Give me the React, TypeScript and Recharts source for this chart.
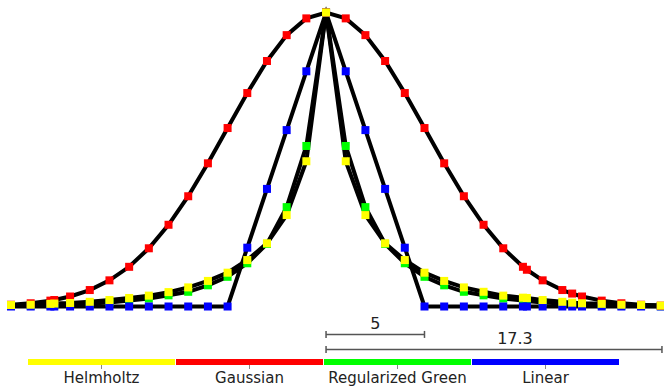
import { LineChart, Line, XAxis, YAxis, ReferenceLine } from "recharts";

// sample positions along the profile (distance units)
const X = [
  -16, -15, -14, -13.8, -13, -12, -11, -10, -9, -8, -7, -6, -5, -4, -3, -2, -1,
  0,
  1, 2, 3, 4, 5, 6, 7, 8, 9, 10, 10.2, 11, 12, 12.5, 13, 14, 15, 16, 17,
];

const HELMHOLTZ = [
  0.005, 0.006, 0.009, 0.01, 0.012, 0.016, 0.022, 0.029, 0.037, 0.049, 0.065, 0.087, 0.115, 0.158, 0.215, 0.311, 0.494,
  1,
  0.494, 0.311, 0.215, 0.158, 0.115, 0.087, 0.065, 0.05, 0.037, 0.03, 0.029, 0.022, 0.016, 0.013, 0.011, 0.009, 0.006, 0.005, 0.003,
];

const GAUSSIAN = [
  0.006, 0.011, 0.02, 0.022, 0.034, 0.056, 0.089, 0.135, 0.198, 0.278, 0.375, 0.487, 0.607, 0.726, 0.835, 0.923, 0.98,
  1,
  0.98, 0.923, 0.835, 0.726, 0.607, 0.487, 0.375, 0.278, 0.198, 0.135, 0.125, 0.089, 0.056, 0.044, 0.034, 0.02, 0.011, 0.006, 0.003,
];

const REG_GREEN = [
  0.002, 0.003, 0.005, 0.005, 0.007, 0.01, 0.014, 0.02, 0.027, 0.038, 0.05, 0.072, 0.101, 0.147, 0.213, 0.338, 0.546,
  1,
  0.546, 0.338, 0.213, 0.147, 0.101, 0.072, 0.05, 0.038, 0.027, 0.02, 0.019, 0.014, 0.01, 0.008, 0.007, 0.005, 0.003, 0.002, 0.001,
];

const LINEAR = [
  0, 0, 0, 0, 0, 0, 0, 0, 0, 0, 0, 0, 0, 0.2, 0.4, 0.6, 0.8,
  1,
  0.8, 0.6, 0.4, 0.2, 0, 0, 0, 0, 0, 0, 0, 0, 0, 0, 0, 0, 0, 0, 0,
];

// legend order (left to right)
const SERIES = [
  { key: "helmholtz", name: "Helmholtz", color: "#ffff00", values: HELMHOLTZ },
  { key: "gaussian", name: "Gaussian", color: "#ff0000", values: GAUSSIAN },
  { key: "green", name: "Regularized Green", color: "#00ff00", values: REG_GREEN },
  { key: "linear", name: "Linear", color: "#0000ff", values: LINEAR },
];

// back to front
const DRAW_ORDER = ["green", "linear", "gaussian", "helmholtz"];

const SCALE_BARS = [
  { label: "5", from: 0, to: 5, y: -0.095 },
  { label: "17.3", from: 0, to: 17.06, y: -0.146 },
];

const W = 664;
const H = 388;
const FONT = "'DejaVu Sans', sans-serif";

const data = X.map((x, i) => {
  const row: Record<string, number> = { x };
  SERIES.forEach((s) => (row[s.key] = s.values[i]));
  return row;
});

const squareDot = (color: string) => (props: any) => {
  const { cx, cy, index } = props;
  if (cx == null || cy == null) return <g key={index} />;
  return <rect key={index} x={cx - 4} y={cy - 4} width={8} height={8} fill={color} />;
};

const scaleBarShape = (label: string, at: number) => (props: any) => {
  const { x1, y1, x2 } = props;
  const tx = x1 + (x2 - x1) * at;
  return (
    <g>
      <line x1={x1} y1={y1} x2={x2} y2={y1} stroke="#555" strokeWidth={1.5} />
      <line x1={x1} y1={y1 - 3.5} x2={x1} y2={y1 + 3.5} stroke="#555" strokeWidth={1.5} />
      <line x1={x2} y1={y1 - 3.5} x2={x2} y2={y1 + 3.5} stroke="#555" strokeWidth={1.5} />
      <text x={tx} y={y1 - 5} textAnchor="middle" fontSize={16} fontFamily={FONT} fill="#222">
        {label}
      </text>
    </g>
  );
};

export default function App() {
  const drawOrder = DRAW_ORDER.map((k) => SERIES.find((s) => s.key === k)!);
  return (
    <div style={{ position: "absolute", left: 0, top: 0, width: W, height: H, background: "#fff" }}>
      <LineChart width={W} height={H} data={data} margin={{ top: 0, right: 0, bottom: 0, left: 0 }}>
        <XAxis type="number" dataKey="x" domain={[-16.559, 17.164]} allowDataOverflow hide />
        <YAxis type="number" domain={[-0.2772, 1.0425]} allowDataOverflow hide />
        {SCALE_BARS.map((b, i) => (
          <ReferenceLine
            key={b.label}
            segment={[
              { x: b.from, y: b.y },
              { x: b.to, y: b.y },
            ]}
            ifOverflow="visible"
            shape={scaleBarShape(b.label, i === 0 ? 0.5 : 0.5625)}
          />
        ))}
        {drawOrder.map((s) => (
          <Line
            key={s.key}
            type="linear"
            dataKey={s.key}
            stroke="#000"
            strokeWidth={4}
            dot={squareDot(s.color)}
            activeDot={false}
            isAnimationActive={false}
          />
        ))}
      </LineChart>
      <div style={{ position: "absolute", left: 28, top: 359, display: "flex", gap: 1 }}>
        {SERIES.map((s) => (
          <div key={s.key} style={{ width: 147, position: "relative", textAlign: "center" }}>
            <div style={{ height: 6, background: s.color }} />
            <div style={{ position: "absolute", left: 73, top: 6, width: 1, height: 4, background: "#888" }} />
            <div
              style={{
                marginTop: 4,
                fontFamily: FONT,
                fontSize: 15,
                color: "#222",
                whiteSpace: "nowrap",
                lineHeight: "18px",
              }}
            >
              {s.name}
            </div>
          </div>
        ))}
      </div>
    </div>
  );
}
